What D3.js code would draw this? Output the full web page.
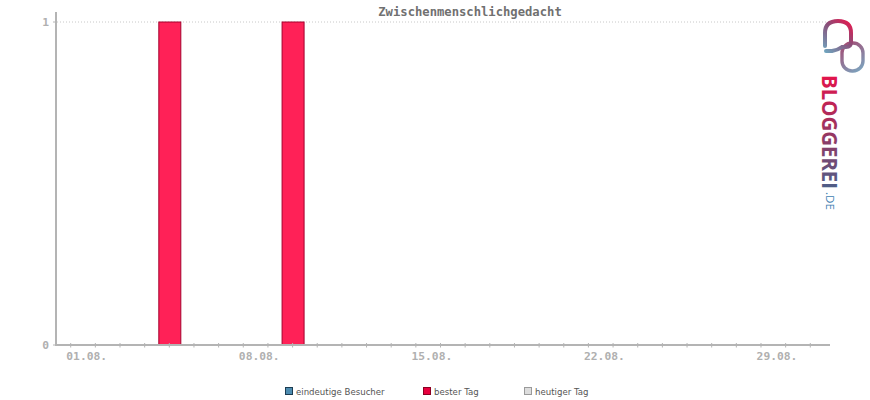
<!DOCTYPE html>
<html><head><meta charset="utf-8">
<script src="https://cdn.jsdelivr.net/npm/d3@7"></script>
<style>body{margin:0;background:#fff}svg{display:block}</style>
</head><body>
<svg id="c" width="870" height="400"></svg>
<script>
const title = "Zwischenmenschlichgedacht";
const days = d3.range(1, 32);
const visitors = days.map(() => 0);
const best = [0,0,0,0,1,0,0,0,0,1,0,0,0,0,0,0,0,0,0,0,0,0,0,0,0,0,0,0,0,0,0];
const today = days.map(() => 0);
const xTickDays = [1, 8, 15, 22, 29];
const xTickLabels = ["01.08.", "08.08.", "15.08.", "22.08.", "29.08."];
const yTicks = [0, 1];
const legendNames = ["eindeutige Besucher", "bester Tag", "heutiger Tag"];

const svg = d3.select("#c");
const x = d3.scaleLinear().domain([1, 31]).range([70.7, 810.3]);
const y = d3.scaleLinear().domain([0, 1]).range([345, 22]);
const axisColor = "#b4b4b4";

// title
svg.append("text").attr("x", 470).attr("y", 16).attr("text-anchor", "middle")
  .attr("font-family", "DejaVu Sans Mono").attr("font-weight", "bold").attr("font-size", 12.2)
  .attr("fill", "#707070").text(title);

// grid line at 1
svg.append("line").attr("x1", 57).attr("x2", 830).attr("y1", y(1)).attr("y2", y(1))
  .attr("stroke", "#c8c8c8").attr("stroke-width", 1).attr("stroke-dasharray", "1,2");

// bars
const bw = 22;
svg.append("g").selectAll("rect").data(best.map((v, i) => ({d: days[i], v})).filter(o => o.v > 0))
  .join("rect")
  .attr("x", o => x(o.d) - bw / 2 + 0.5).attr("width", bw)
  .attr("y", o => y(o.v)).attr("height", o => y(0) - y(o.v))
  .attr("fill", "#ff2157").attr("stroke", "#a5002d").attr("stroke-width", 1);

// x axis
svg.append("line").attr("x1", 56).attr("x2", 830).attr("y1", 345).attr("y2", 345)
  .attr("stroke", axisColor).attr("stroke-width", 2);
svg.append("g").selectAll("line").data(days).join("line")
  .attr("x1", d => x(d)).attr("x2", d => x(d)).attr("y1", 343).attr("y2", 347.5)
  .attr("stroke", axisColor).attr("stroke-width", 1);
svg.append("g").selectAll("text").data(xTickDays).join("text")
  .attr("x", (d) => x(d) + 16).attr("y", 360).attr("text-anchor", "middle")
  .attr("font-family", "DejaVu Sans Mono").attr("font-weight", "bold").attr("font-size", 11.3)
  .attr("fill", "#b0b0b0").text((d, i) => xTickLabels[i]);

// y axis
svg.append("line").attr("x1", 56).attr("x2", 56).attr("y1", 12).attr("y2", 346)
  .attr("stroke", axisColor).attr("stroke-width", 2);
svg.append("g").selectAll("line").data(yTicks).join("line")
  .attr("x1", 53).attr("x2", 57).attr("y1", d => y(d)).attr("y2", d => y(d))
  .attr("stroke", axisColor);
svg.append("g").selectAll("text").data(yTicks).join("text")
  .attr("x", 49).attr("y", d => y(d) + 4).attr("text-anchor", "end")
  .attr("font-family", "DejaVu Sans Mono").attr("font-weight", "bold").attr("font-size", 11.3)
  .attr("fill", "#b0b0b0").text(d => d);

// legend
const legFill = ["#4d8cb0", "#e8003e", "#dddddd"];
const legStroke = ["#1c3c52", "#8b0022", "#9a9a9a"];
const legX = [285, 423, 524];
const lg = svg.append("g").selectAll("g").data(legendNames).join("g")
  .attr("transform", (d, i) => `translate(${legX[i]},387)`);
lg.append("rect").attr("x", 0.5).attr("y", 0.5).attr("width", 7).attr("height", 7)
  .attr("fill", (d, i) => legFill[i]).attr("stroke", (d, i) => legStroke[i]);
lg.append("text").attr("x", 11).attr("y", 7.5)
  .attr("font-family", "DejaVu Sans").attr("font-size", 8.6).attr("fill", "#555").text(d => d);

// logo
const defs = svg.append("defs");
const g1 = defs.append("linearGradient").attr("id", "lg1")
  .attr("x1", 0).attr("y1", 0).attr("x2", 1).attr("y2", 0);
g1.append("stop").attr("offset", 0).attr("stop-color", "#e4134b");
g1.append("stop").attr("offset", 0.5).attr("stop-color", "#9a3560");
g1.append("stop").attr("offset", 1).attr("stop-color", "#4c5f88");
const g2 = defs.append("linearGradient").attr("id", "lg2").attr("gradientUnits", "userSpaceOnUse")
  .attr("x1", 824).attr("y1", 52).attr("x2", 852).attr("y2", 20);
g2.append("stop").attr("offset", 0).attr("stop-color", "#6fa7c0");
g2.append("stop").attr("offset", 0.55).attr("stop-color", "#8a4d78");
g2.append("stop").attr("offset", 1).attr("stop-color", "#f0124a");
const g3 = defs.append("linearGradient").attr("id", "lg3").attr("gradientUnits", "userSpaceOnUse")
  .attr("x1", 842).attr("y1", 44).attr("x2", 862).attr("y2", 72);
g3.append("stop").attr("offset", 0).attr("stop-color", "#a44a72");
g3.append("stop").attr("offset", 1).attr("stop-color", "#7aa8c2");

svg.append("rect").attr("x", 842).attr("y", 43).attr("width", 21).attr("height", 28).attr("rx", 10)
  .attr("fill", "none").attr("stroke", "url(#lg3)").attr("stroke-width", 3.4);
svg.append("path")
  .attr("d", "M825,46 L825,33 Q825,21 838,21 Q851,21 851,33 L851,42 Q851,47 846,47 L842,47 Q838,50 832,51 L826,51")
  .attr("fill", "none").attr("stroke", "url(#lg2)").attr("stroke-width", 4).attr("stroke-linecap", "round");

svg.append("text").attr("transform", "translate(822,75) rotate(90)")
  .attr("font-family", "Open Sans").attr("font-weight", "700").attr("font-size", 22)
  .attr("textLength", 114).attr("lengthAdjust", "spacingAndGlyphs")
  .attr("fill", "url(#lg1)").text("BLOGGEREI");
svg.append("text").attr("transform", "translate(826,192) rotate(90)")
  .attr("font-family", "Open Sans").attr("font-size", 11)
  .attr("textLength", 18).attr("lengthAdjust", "spacingAndGlyphs")
  .attr("fill", "#3f7fb2").text(".DE");
</script>
</body></html>
